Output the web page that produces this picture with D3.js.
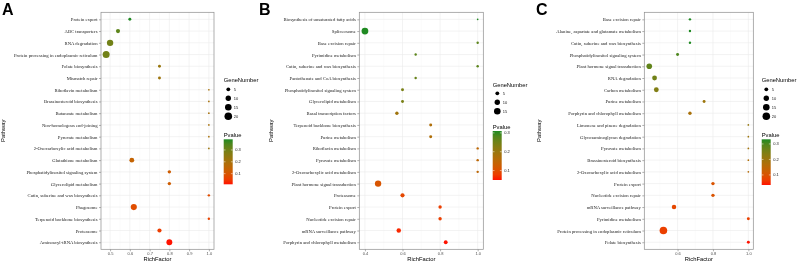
<!DOCTYPE html>
<html>
<head>
<meta charset="utf-8">
<script src="https://cdn.jsdelivr.net/npm/d3@7"></script>
<style>
  body { margin: 0; background: #fff; }
  svg { will-change: transform; }
  .grid-major { stroke: #ebebeb; stroke-width: 0.6; }
  .grid-minor { stroke: #f4f4f4; stroke-width: 0.4; }
  .pathway-label { font-family: "Liberation Serif", serif; font-size: 4.7px; fill: #1a1a1a; }
  .tick-label { font-family: "Liberation Sans", Arial, sans-serif; font-size: 4px; fill: #4d4d4d; }
  .axis-title { font-family: "Liberation Sans", Arial, sans-serif; font-size: 5.8px; fill: #000; }
  .legend-label { font-family: "Liberation Sans", Arial, sans-serif; font-size: 4px; fill: #1a1a1a; }
  .panel-letter { font-family: "Liberation Sans", Arial, sans-serif; font-size: 16px; font-weight: bold; }
</style>
</head>
<body>
<div id="wrapper"></div>
<script>

// data (top row first)
const pathwaysA = [
  "Protein export", "ABC transporters", "RNA degradation",
  "Protein processing in endoplasmic reticulum", "Folate biosynthesis", "Mismatch repair",
  "Riboflavin metabolism", "Brassinosteroid biosynthesis", "Butanoate metabolism",
  "Non-homologous end-joining", "Pyruvate metabolism", "2-Oxocarboxylic acid metabolism",
  "Glutathione metabolism", "Phosphatidylinositol signaling system", "Glycerolipid metabolism",
  "Cutin, suberine and wax biosynthesis", "Phagosome", "Terpenoid backbone biosynthesis",
  "Proteasome", "Aminoacyl-tRNA biosynthesis",
]
const richA = [0.6, 0.54, 0.5, 0.48, 0.75, 0.75, 1, 1, 1, 1, 1, 1, 0.61, 0.8, 0.8, 1, 0.62, 1, 0.75, 0.8]
const genesA = [3, 6, 14, 17, 3, 3, 1, 1, 1, 1, 1, 1, 8, 4, 4, 2, 13, 2, 6, 12]
const pvalA = [0.39, 0.33, 0.3, 0.3, 0.23, 0.22, 0.2, 0.2, 0.2, 0.2, 0.2, 0.22, 0.14, 0.12, 0.12, 0.08, 0.08, 0.06, 0.05, 0.01]

const pathwaysB = [
  "Biosynthesis of unsaturated fatty acids", "Spliceosome", "Base excision repair",
  "Pyrimidine metabolism", "Cutin, suberine and wax biosynthesis", "Pantothenate and CoA biosynthesis",
  "Phosphatidylinositol signaling system", "Glycerolipid metabolism", "Basal transcription factors",
  "Terpenoid backbone biosynthesis", "Purine metabolism", "Riboflavin metabolism",
  "Pyruvate metabolism", "2-Oxocarboxylic acid metabolism", "Plant hormone signal transduction",
  "Proteasome", "Protein export", "Nucleotide excision repair",
  "mRNA surveillance pathway", "Porphyrin and chlorophyll metabolism",
]
const richB = [1, 0.4, 1, 0.67, 1, 0.67, 0.6, 0.6, 0.57, 0.75, 0.75, 1, 1, 1, 0.47, 0.6, 0.8, 0.8, 0.58, 0.83]
const genesB = [1, 16, 2, 2, 2, 2, 3, 3, 4, 3, 3, 2, 2, 2, 14, 6, 4, 4, 7, 5]
const pvalB = [0.31, 0.31, 0.27, 0.27, 0.27, 0.26, 0.24, 0.24, 0.19, 0.17, 0.17, 0.15, 0.15, 0.15, 0.11, 0.09, 0.08, 0.08, 0.06, 0.05]

const pathwaysC = [
  "Base excision repair", "Alanine, aspartate and glutamate metabolism", "Cutin, suberine and wax biosynthesis",
  "Phosphatidylinositol signaling system", "Plant hormone signal transduction", "RNA degradation",
  "Carbon metabolism", "Purine metabolism", "Porphyrin and chlorophyll metabolism",
  "Limonene and pinene degradation", "Glycosaminoglycan degradation", "Pyruvate metabolism",
  "Brassinosteroid biosynthesis", "2-Oxocarboxylic acid metabolism", "Protein export",
  "Nucleotide excision repair", "mRNA surveillance pathway", "Pyrimidine metabolism",
  "Protein processing in endoplasmic reticulum", "Folate biosynthesis",
]
const richC = [0.67, 0.67, 0.67, 0.6, 0.44, 0.47, 0.48, 0.75, 0.67, 1, 1, 1, 1, 1, 0.8, 0.8, 0.58, 1, 0.52, 1]
const genesC = [2, 2, 2, 3, 11, 8, 8, 3, 4, 1, 1, 1, 1, 1, 4, 4, 7, 3, 20, 3]
const pvalC = [0.33, 0.33, 0.33, 0.3, 0.28, 0.26, 0.24, 0.2, 0.18, 0.21, 0.2, 0.19, 0.17, 0.16, 0.1, 0.1, 0.08, 0.07, 0.07, 0.035]

const sizeBreaksA = [5, 10, 15, 20]
const sizeBreaksB = [5, 10, 15]
const sizeBreaksC = [5, 10, 15, 20]
const pvalueTicks = [0.1, 0.2, 0.3]
const xTicksA = [0.5, 0.6, 0.7, 0.8, 0.9, 1.0]
const xTicksB = [0.4, 0.6, 0.8, 1.0]
const xTicksC = [0.6, 0.8, 1.0]

function drawChart() {

  // 1. Dimensions

  const width = 798
  const height = 266
  const panelTop = 12.3
  const panelBottom = 249.3

  const wrapper = d3.select("#wrapper")
    .append("svg")
      .attr("width", width)
      .attr("height", height)
      .style("display", "block")

  const defs = wrapper.append("defs")

  const lowColor = "#ff1200"
  const highColor = "#1f8a22"
  const colorInterp = d3.interpolateLab(lowColor, highColor)
  const radiusScale = d3.scaleSqrt().domain([0, 20]).range([0, 3.8])

  const panels = [
    {
      id: "A", letterX: 2, pathways: pathwaysA, rich: richA, genes: genesA, pval: pvalA,
      left: 101, right: 214, xTicks: xTicksA, sizeBreaks: sizeBreaksA,
      pathwayX: 5, legendX: 223.7, gnTitleY: 82, itemY0: 89.3, pvTitleY: 137, barTop: 139.3, barBottom: 184.3,
    },
    {
      id: "B", letterX: 259, pathways: pathwaysB, rich: richB, genes: genesB, pval: pvalB,
      left: 359.3, right: 483.3, xTicks: xTicksB, sizeBreaks: sizeBreaksB,
      pathwayX: 273, legendX: 492.7, gnTitleY: 87, itemY0: 93.3, pvTitleY: 128.7, barTop: 131, barBottom: 180,
    },
    {
      id: "C", letterX: 536, pathways: pathwaysC, rich: richC, genes: genesC, pval: pvalC,
      left: 644.3, right: 753.3, xTicks: xTicksC, sizeBreaks: sizeBreaksC,
      pathwayX: 541, legendX: 761.7, gnTitleY: 82, itemY0: 89.3, pvTitleY: 137, barTop: 139.3, barBottom: 185,
    },
  ]

  panels.forEach(p => drawPanel(p))

  function drawPanel(p) {
    const g = wrapper.append("g")

    // 2. Scales

    const [xMin, xMax] = d3.extent(p.rich)
    const pad = (xMax - xMin) * 0.05
    const xScale = d3.scaleLinear()
      .domain([xMin - pad, xMax + pad])
      .range([p.left, p.right])

    const yScale = d3.scalePoint()
      .domain(p.pathways)
      .range([panelTop, panelBottom])
      .padding(0.6)

    const pExtent = d3.extent(p.pval)
    const colorScale = d3.scaleSequential(colorInterp).domain(pExtent)

    // 3. Peripherals

    g.append("text")
      .attr("class", "panel-letter")
      .attr("x", p.letterX)
      .attr("y", 15)
      .text(p.id)

    const minorTicks = d3.range(0.35, 1.06, 0.1)
      .map(d => +d.toFixed(2))
      .filter(d => d > xScale.domain()[0] && d < xScale.domain()[1])
      .filter(d => !p.xTicks.some(t => Math.abs(t - d) < 1e-6))
    const minorB = p.id === "A" ? minorTicks : [0.5, 0.7, 0.9].filter(d => d > xScale.domain()[0])

    g.selectAll(".minor-x")
      .data(minorB)
      .join("line")
        .attr("class", "grid-minor")
        .attr("x1", d => xScale(d))
        .attr("x2", d => xScale(d))
        .attr("y1", panelTop)
        .attr("y2", panelBottom)

    g.selectAll(".major-x")
      .data(p.xTicks)
      .join("line")
        .attr("class", "grid-major")
        .attr("x1", d => xScale(d))
        .attr("x2", d => xScale(d))
        .attr("y1", panelTop)
        .attr("y2", panelBottom)

    g.selectAll(".major-y")
      .data(p.pathways)
      .join("line")
        .attr("class", "grid-major")
        .attr("x1", p.left)
        .attr("x2", p.right)
        .attr("y1", d => yScale(d))
        .attr("y2", d => yScale(d))

    // y axis
    const yAxis = d3.axisLeft(yScale).tickSize(2).tickPadding(1.5)
    const yAxisGroup = g.append("g")
      .attr("transform", `translate(${p.left},0)`)
      .call(yAxis)
    yAxisGroup.select(".domain").remove()
    yAxisGroup.selectAll("line").attr("stroke", "#333").attr("stroke-width", 0.4)
    yAxisGroup.selectAll("text")
      .attr("class", "pathway-label")
      .attr("font-family", null)
      .attr("font-size", null)
      .attr("fill", null)

    // x axis
    const xAxis = d3.axisBottom(xScale)
      .tickValues(p.xTicks)
      .tickFormat(d3.format(".1f"))
      .tickSize(2)
      .tickPadding(1.2)
    const xAxisGroup = g.append("g")
      .attr("transform", `translate(0,${panelBottom})`)
      .call(xAxis)
    xAxisGroup.select(".domain").remove()
    xAxisGroup.selectAll("line").attr("stroke", "#333").attr("stroke-width", 0.4)
    xAxisGroup.selectAll("text")
      .attr("class", "tick-label")
      .attr("font-family", null)
      .attr("font-size", null)
      .attr("fill", null)

    g.append("text")
      .attr("class", "axis-title")
      .attr("x", (p.left + p.right) / 2)
      .attr("y", 261)
      .attr("text-anchor", "middle")
      .text("RichFactor")

    g.append("text")
      .attr("class", "axis-title")
      .attr("transform", `translate(${p.pathwayX},${(panelTop + panelBottom) / 2}) rotate(-90)`)
      .attr("text-anchor", "middle")
      .text("Pathway")

    // 4. Draw data

    const rows = p.pathways.map((name, i) => ({
      name: name, rich: p.rich[i], genes: p.genes[i], pval: p.pval[i],
    }))

    g.selectAll(".dot")
      .data(rows)
      .join("circle")
        .attr("cx", d => xScale(d.rich))
        .attr("cy", d => yScale(d.name))
        .attr("r", d => radiusScale(d.genes))
        .attr("fill", d => colorScale(d.pval))

    g.append("rect")
      .attr("x", p.left)
      .attr("y", panelTop)
      .attr("width", p.right - p.left)
      .attr("height", panelBottom - panelTop)
      .attr("fill", "none")
      .attr("stroke", "#8c8c8c")
      .attr("stroke-width", 0.7)

    // 5. Legends

    const legend = g.append("g")

    legend.append("text")
      .attr("class", "axis-title")
      .attr("x", p.legendX)
      .attr("y", p.gnTitleY)
      .text("GeneNumber")

    p.sizeBreaks.forEach((b, i) => {
      const cy = p.itemY0 + i * 9
      legend.append("circle")
        .attr("cx", p.legendX + 4.6)
        .attr("cy", cy)
        .attr("r", radiusScale(b))
        .attr("fill", "#000")
      legend.append("text")
        .attr("class", "legend-label")
        .attr("x", p.legendX + 10)
        .attr("y", cy + 1.4)
        .text(b)
    })

    legend.append("text")
      .attr("class", "axis-title")
      .attr("x", p.legendX)
      .attr("y", p.pvTitleY)
      .text("Pvalue")

    const gradientId = `pvalue-gradient-${p.id}`
    const gradient = defs.append("linearGradient")
      .attr("id", gradientId)
      .attr("x1", 0).attr("x2", 0)
      .attr("y1", 1).attr("y2", 0)
    const numberOfStops = 10
    d3.range(numberOfStops).forEach(i => {
      gradient.append("stop")
        .attr("offset", `${i * 100 / (numberOfStops - 1)}%`)
        .attr("stop-color", colorInterp(i / (numberOfStops - 1)))
    })

    const barScale = d3.scaleLinear()
      .domain(pExtent)
      .range([p.barBottom, p.barTop])

    legend.append("rect")
      .attr("x", p.legendX)
      .attr("y", p.barTop)
      .attr("width", 9)
      .attr("height", p.barBottom - p.barTop)
      .attr("fill", `url(#${gradientId})`)

    pvalueTicks.filter(t => t >= pExtent[0] && t <= pExtent[1]).forEach(t => {
      const y = barScale(t)
      legend.append("line")
        .attr("x1", p.legendX).attr("x2", p.legendX + 1.8)
        .attr("y1", y).attr("y2", y)
        .attr("stroke", "#fff").attr("stroke-width", 0.5)
      legend.append("line")
        .attr("x1", p.legendX + 7.2).attr("x2", p.legendX + 9)
        .attr("y1", y).attr("y2", y)
        .attr("stroke", "#fff").attr("stroke-width", 0.5)
      legend.append("text")
        .attr("class", "legend-label")
        .attr("x", p.legendX + 11.5)
        .attr("y", y + 1.4)
        .text(d3.format(".1f")(t))
    })
  }
}
drawChart()
</script>
</body>
</html>
